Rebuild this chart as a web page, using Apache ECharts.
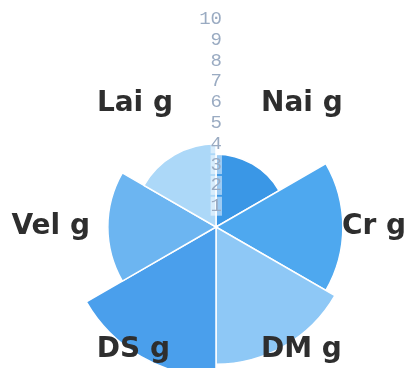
<!DOCTYPE html>
<html>
<head>
<meta charset="utf-8">
<script src="https://cdn.jsdelivr.net/npm/echarts@6/dist/echarts.min.js"></script>
<style>
  html, body { margin: 0; padding: 0; background: #fff; }
  #chart { width: 406px; height: 368px; }
</style>
</head>
<body>
<div id="chart"></div>
<script>
const categories = ['Nai g', 'Cr g', 'DM g', 'DS g', 'Vel g', 'Lai g']
const values = [3.5, 6.1, 6.6, 7.2, 5.2, 4.0]
const radiusTicks = ['1', '2', '3', '4', '5', '6', '7', '8', '9', '10']

const colors = ['#3a97e6', '#4ea8ef', '#8ec8f6', '#4a9fec', '#6cb5f1', '#acd8f8']
// nudge the diagonal labels in toward the middle
const labelShift = { 'Nai g': [0, 0, 0, -18], 'DM g': [0, 0, 0, -18], 'DS g': [0, -17, 0, 0], 'Lai g': [0, -20, 0, 0] }

const chart = echarts.init(document.getElementById('chart'))

chart.setOption({
  animation: false,
  polar: { center: [216, 227], radius: 208 },
  angleAxis: {
    type: 'category',
    startAngle: 90,
    z: 10,
    data: categories.map(c => labelShift[c] ? { value: c, textStyle: { padding: labelShift[c] } } : c),
    axisLine: { show: false },
    axisTick: { show: false },
    splitLine: { show: false },
    axisLabel: {
      margin: -82,
      fontFamily: 'DejaVu Sans',
      fontWeight: 'bold',
      fontSize: 28,
      color: '#2e2e2e',
    },
  },
  radiusAxis: {
    type: 'value',
    min: 0,
    max: 10,
    interval: 1,
    z: 5,
    axisLine: { show: false },
    axisTick: { show: false },
    splitLine: { show: false },
    axisLabel: {
      showMinLabel: false,
      margin: -6,
      fontFamily: 'Liberation Mono',
      fontSize: 19,
      color: '#9aabc2',
      backgroundColor: 'rgba(255,255,255,0.5)',
      formatter: v => radiusTicks[v - 1] || '',
    },
  },
  series: [{
    type: 'bar',
    coordinateSystem: 'polar',
    barCategoryGap: '0%',
    data: values.map((v, i) => ({ value: v, itemStyle: { color: colors[i] } })),
    itemStyle: { borderColor: '#fff', borderWidth: 1.5 },
  }],
})
</script>
</body>
</html>
